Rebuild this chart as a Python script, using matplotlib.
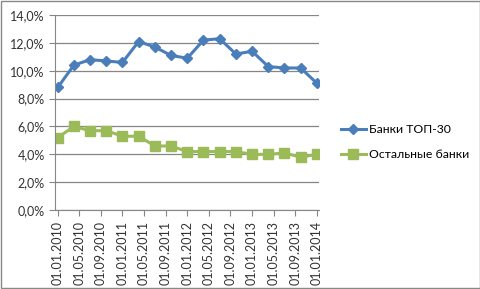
import numpy as np
import matplotlib.pyplot as plt
from matplotlib.ticker import FuncFormatter

plt.rcParams['font.family'] = ['Lato', 'DejaVu Sans']

months = np.arange(0, 49, 3)
tick_months = np.arange(0, 49, 4)
tick_labels = ['01.01.2010', '01.05.2010', '01.09.2010', '01.01.2011', '01.05.2011',
               '01.09.2011', '01.01.2012', '01.05.2012', '01.09.2012', '01.01.2013',
               '01.05.2013', '01.09.2013', '01.01.2014']
top30 = [8.8, 10.4, 10.8, 10.7, 10.6, 12.1, 11.7, 11.1, 10.9, 12.2, 12.3,
         11.2, 11.4, 10.3, 10.2, 10.2, 9.1]
others = [5.2, 6.0, 5.7, 5.7, 5.3, 5.3, 4.6, 4.6, 4.2, 4.2, 4.2, 4.2,
          4.0, 4.0, 4.1, 3.8, 4.0]

fig = plt.figure(figsize=(4.81, 2.89), dpi=100)
ax = fig.add_axes([0.1143, 0.273, 0.549, 0.675])

ax.plot(months, top30, color='#4A7EBB', lw=2.2, marker='D', ms=5.5,
        label='Банки ТОП-30')
ax.plot(months, others, color='#9BBB59', lw=2.2, marker='s', ms=6.5,
        label='Остальные банки')

ax.set_xlim(-0.5, 48.4)
ax.set_ylim(0, 14)
ax.set_yticks(np.arange(0, 15, 2))
ax.yaxis.set_major_formatter(FuncFormatter(lambda v, p: f'{v:.1f}%'.replace('.', ',')))
ax.set_xticks(tick_months)
ax.set_xticklabels(tick_labels, rotation=90)
ax.tick_params(labelsize=9, colors='#333333', length=4, color='#868686')
ax.grid(axis='y', color='#868686', lw=0.9)
ax.set_axisbelow(True)
for s in ['top', 'right']:
    ax.spines[s].set_visible(False)
for s in ['left', 'bottom']:
    ax.spines[s].set_color('#868686')

ax.legend(loc='center left', bbox_to_anchor=(1.04, 0.35), frameon=False,
          fontsize=8.8, handlelength=2.1, handletextpad=0.25, labelspacing=1.15)

fig.add_artist(plt.Rectangle((0.002, 0.003), 0.995, 0.994, transform=fig.transFigure,
                             fill=False, ec='#888888', lw=1))
fig.savefig('out.png')
